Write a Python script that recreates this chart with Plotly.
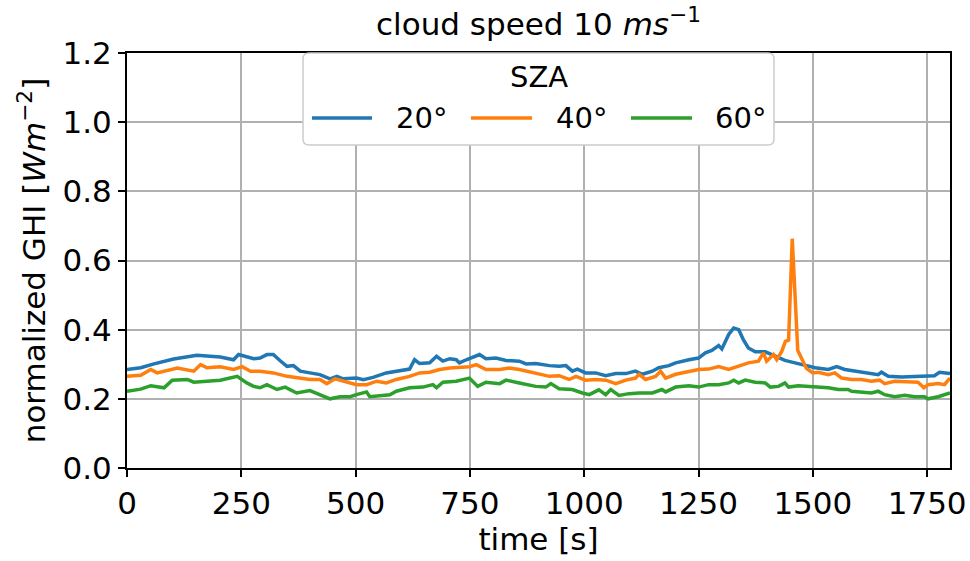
import plotly.graph_objects as go

# Normalized GHI time series for three solar zenith angles (cloud speed 10 m/s)
t_sza20 = [0, 30, 59, 102, 153, 204, 233, 244, 277, 291, 306, 320, 335, 350, 364, 379, 400, 422,
           444, 459, 473, 502, 517, 538, 567, 589, 618, 629, 640, 662, 677, 691, 706, 720, 727,
           742, 771, 785, 807, 829, 858, 873, 894, 924, 945, 960, 974, 985, 1003, 1025, 1047,
           1069, 1091, 1112, 1127, 1149, 1163, 1185, 1200, 1229, 1250, 1265, 1279, 1294, 1301,
           1316, 1327, 1338, 1348, 1359, 1374, 1396, 1418, 1439, 1461, 1483, 1505, 1534, 1552,
           1570, 1599, 1621, 1643, 1650, 1665, 1694, 1723, 1744, 1766, 1777, 1800]
ghi_sza20 = [0.285, 0.290, 0.301, 0.315, 0.326, 0.321, 0.313, 0.328, 0.316, 0.318, 0.328, 0.328,
             0.310, 0.294, 0.296, 0.280, 0.275, 0.270, 0.258, 0.265, 0.258, 0.260, 0.255, 0.262,
             0.275, 0.280, 0.286, 0.313, 0.302, 0.304, 0.323, 0.309, 0.316, 0.313, 0.304, 0.313,
             0.328, 0.316, 0.318, 0.311, 0.309, 0.301, 0.302, 0.296, 0.294, 0.296, 0.280, 0.286,
             0.275, 0.275, 0.267, 0.273, 0.273, 0.280, 0.271, 0.280, 0.290, 0.296, 0.304, 0.313,
             0.318, 0.333, 0.340, 0.354, 0.344, 0.386, 0.405, 0.400, 0.371, 0.347, 0.336, 0.336,
             0.323, 0.311, 0.304, 0.296, 0.290, 0.285, 0.293, 0.285, 0.280, 0.275, 0.270, 0.277,
             0.265, 0.263, 0.265, 0.265, 0.267, 0.277, 0.273]

t_sza40 = [0, 30, 52, 66, 110, 146, 161, 175, 204, 233, 252, 270, 291, 320, 350, 379, 400, 422,
           437, 455, 473, 502, 524, 546, 567, 589, 618, 640, 662, 684, 706, 727, 749, 764, 785,
           815, 836, 858, 894, 924, 945, 967, 982, 1003, 1025, 1047, 1069, 1091, 1112, 1120,
           1134, 1156, 1167, 1178, 1200, 1229, 1250, 1272, 1294, 1316, 1338, 1359, 1381, 1392,
           1399, 1414, 1421, 1432, 1440, 1447, 1455, 1467, 1475, 1486, 1500, 1512, 1534, 1548,
           1563, 1585, 1606, 1628, 1646, 1657, 1679, 1708, 1730, 1743, 1752, 1774, 1788, 1800]
ghi_sza40 = [0.265, 0.268, 0.285, 0.275, 0.289, 0.280, 0.299, 0.290, 0.293, 0.285, 0.293, 0.280,
             0.280, 0.275, 0.265, 0.260, 0.256, 0.256, 0.244, 0.258, 0.251, 0.241, 0.241, 0.251,
             0.246, 0.256, 0.265, 0.275, 0.277, 0.285, 0.289, 0.292, 0.293, 0.299, 0.285, 0.285,
             0.289, 0.285, 0.275, 0.265, 0.267, 0.256, 0.265, 0.254, 0.256, 0.254, 0.244, 0.254,
             0.260, 0.271, 0.256, 0.265, 0.280, 0.260, 0.271, 0.280, 0.285, 0.286, 0.293, 0.285,
             0.296, 0.304, 0.309, 0.333, 0.309, 0.328, 0.313, 0.337, 0.366, 0.370, 0.663, 0.340,
             0.318, 0.288, 0.275, 0.277, 0.270, 0.275, 0.260, 0.256, 0.256, 0.251, 0.254, 0.244,
             0.251, 0.248, 0.248, 0.232, 0.241, 0.244, 0.241, 0.260]

t_sza60 = [0, 30, 52, 81, 99, 132, 146, 175, 204, 241, 262, 277, 291, 306, 328, 346, 371, 400,
           422, 444, 466, 488, 502, 524, 531, 553, 575, 589, 618, 647, 669, 677, 691, 720, 749,
           767, 785, 815, 829, 858, 894, 916, 927, 945, 974, 996, 1011, 1032, 1047, 1058, 1076,
           1098, 1120, 1149, 1170, 1178, 1200, 1229, 1250, 1272, 1294, 1316, 1327, 1338, 1352,
           1374, 1396, 1407, 1425, 1439, 1447, 1468, 1505, 1534, 1556, 1577, 1585, 1606, 1628,
           1643, 1657, 1679, 1701, 1723, 1744, 1752, 1774, 1800]
ghi_sza60 = [0.222, 0.228, 0.238, 0.232, 0.254, 0.256, 0.248, 0.252, 0.254, 0.265, 0.246, 0.236,
             0.232, 0.241, 0.227, 0.234, 0.217, 0.224, 0.212, 0.200, 0.206, 0.206, 0.212, 0.220,
             0.206, 0.210, 0.212, 0.222, 0.232, 0.234, 0.241, 0.232, 0.248, 0.251, 0.260, 0.236,
             0.248, 0.244, 0.254, 0.246, 0.236, 0.234, 0.244, 0.229, 0.227, 0.217, 0.212, 0.226,
             0.212, 0.227, 0.210, 0.215, 0.217, 0.217, 0.227, 0.220, 0.234, 0.238, 0.234, 0.241,
             0.241, 0.246, 0.254, 0.246, 0.254, 0.248, 0.246, 0.234, 0.236, 0.246, 0.234, 0.238,
             0.234, 0.232, 0.227, 0.227, 0.222, 0.220, 0.217, 0.222, 0.212, 0.206, 0.210, 0.206,
             0.206, 0.200, 0.206, 0.217]

series_names = ["20°", "40°", "60°"]
series_colors = ["#1f77b4", "#ff7f0e", "#2ca02c"]
x_ticks = [0, 250, 500, 750, 1000, 1250, 1500, 1750]
y_ticks = [0.0, 0.2, 0.4, 0.6, 0.8, 1.0, 1.2]

FONT = "DejaVu Sans"
FS = 31
LEG_FS = 29
W, H = 970, 561
L, R, T, B = 127, 20, 53, 93
PW, PH = W - L - R, H - T - B


def px(x):
    return (x - L) / PW


def py(y):
    return (H - B - y) / PH


fig = go.Figure()
for t, v, name, col in zip([t_sza20, t_sza40, t_sza60],
                           [ghi_sza20, ghi_sza40, ghi_sza60],
                           series_names, series_colors):
    fig.add_trace(go.Scatter(x=t, y=v, mode="lines", name=name,
                             line=dict(color=col, width=3.5), showlegend=False))

axis_common = dict(showline=True, linecolor="black", linewidth=2, mirror=True,
                   ticks="outside", ticklen=7, tickwidth=2, tickcolor="black",
                   showgrid=True, gridcolor="#b0b0b0", gridwidth=2, zeroline=False,
                   automargin=False,
                   tickfont=dict(family=FONT, size=FS, color="black"))

fig.update_xaxes(range=[0, 1800], tickvals=x_ticks, ticktext=[str(v) for v in x_ticks],
                 title=dict(text="time [s]", font=dict(family=FONT, size=FS, color="black"),
                            standoff=4),
                 **axis_common)
fig.update_yaxes(range=[0, 1.2], tickvals=y_ticks, ticktext=[f"{v:.1f}" for v in y_ticks],
                 title=dict(text="normalized GHI [<i>Wm</i><sup>−2</sup>]",
                            font=dict(family=FONT, size=FS, color="black"), standoff=8),
                 **axis_common)

# Legend drawn as a rounded box with a centred title and three line samples
x0, x1, y0, y1 = px(303), px(774), py(145), py(53)
rx, ry = 6 / PW, 6 / PH
path = (f"M {x0 + rx},{y1} L {x1 - rx},{y1} Q {x1},{y1} {x1},{y1 - ry} "
        f"L {x1},{y0 + ry} Q {x1},{y0} {x1 - rx},{y0} L {x0 + rx},{y0} "
        f"Q {x0},{y0} {x0},{y0 + ry} L {x0},{y1 - ry} Q {x0},{y1} {x0 + rx},{y1} Z")
shapes = [dict(type="path", path=path, xref="paper", yref="paper", layer="above",
               fillcolor="white", line=dict(color="#cccccc", width=1.5))]
annotations = [dict(text="SZA", x=px(539), y=py(77), xref="paper", yref="paper",
                    showarrow=False, font=dict(family=FONT, size=LEG_FS, color="black"),
                    xanchor="center", yanchor="middle")]
sample_x = [(312, 372), (471, 532), (631, 692)]
label_x = [394, 554, 713]
for (a, b), lx, name, col in zip(sample_x, label_x, series_names, series_colors):
    shapes.append(dict(type="line", x0=px(a), x1=px(b), y0=py(118), y1=py(118),
                       xref="paper", yref="paper", layer="above",
                       line=dict(color=col, width=3.5)))
    annotations.append(dict(text=name, x=px(lx), y=py(118), xref="paper", yref="paper",
                            showarrow=False, xanchor="left", yanchor="middle",
                            font=dict(family=FONT, size=LEG_FS, color="black")))

fig.update_layout(
    width=W, height=H,
    margin=dict(l=L, r=R, t=T, b=B, autoexpand=False),
    paper_bgcolor="white", plot_bgcolor="white",
    title=dict(text="cloud speed 10 <i>ms</i><sup>−1</sup>", x=px(538.5), xref="paper",
               xanchor="center", y=1 - 24 / H, yref="container", yanchor="middle",
               font=dict(family=FONT, size=FS, color="black")),
    shapes=shapes, annotations=annotations,
    showlegend=False,
)

fig.write_html("out.html")
